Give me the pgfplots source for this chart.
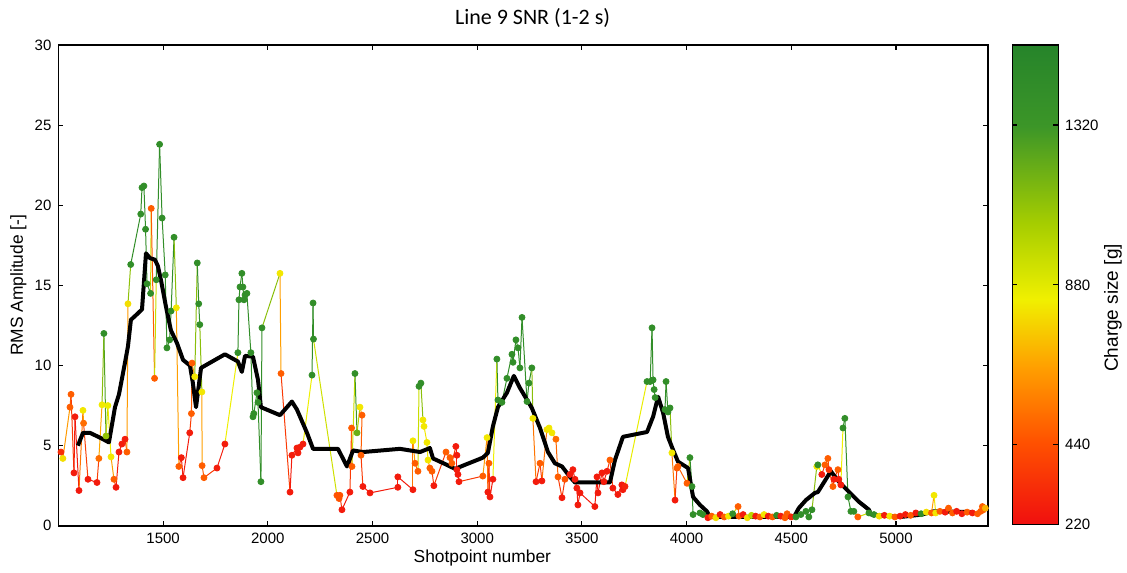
\documentclass[border=0pt]{standalone}
\usepackage{fontspec}
\setmainfont{Liberation Sans}
\newfontfamily\titlefont{Carlito}
\usepackage{pgfplots}
\pgfplotsset{compat=1.18}
\usepackage{pgfplotstable}

\pgfplotstableread{
x y c
1012 4.6 330
1021 4.2 800
1055 7.4 480
1060 8.2 480
1074 3.3 260
1079 6.8 260
1098 2.2 250
1117 7.2 820
1120 6.4 520
1141 2.9 260
1184 2.7 260
1193 4.2 520
1208 7.55 830
1217 12.0 1420
1227 5.6 1100
1236 7.5 850
1251 4.3 820
1265 2.9 480
1275 2.4 250
1289 4.6 270
1303 5.1 270
1318 5.4 270
1327 4.6 480
1332 13.85 800
1345 16.3 1420
1393 19.45 1420
1399 21.1 1420
1408 21.2 1420
1416 18.5 1420
1423 15.1 1420
1440 14.5 1420
1443 19.8 480
1459 9.2 480
1467 15.35 1420
1483 23.8 1420
1495 19.2 1420
1510 15.65 1420
1518 11.1 1420
1531 11.6 1420
1538 13.4 1420
1552 18.0 1420
1563 13.6 820
1575 3.7 480
1587 4.25 270
1595 3.0 260
1627 5.8 270
1635 7.0 480
1638 10.15 480
1651 9.3 820
1663 16.4 1420
1670 13.85 1420
1675 12.55 1420
1685 8.35 820
1686 3.75 480
1695 3.0 480
1757 3.6 270
1795 5.1 270
1857 10.8 1420
1862 14.1 1420
1867 14.9 1420
1876 15.75 1420
1881 14.9 1420
1886 14.1 1420
1891 14.4 1420
1900 14.5 1420
1919 10.8 1420
1929 6.8 1420
1933 7.0 1420
1948 8.3 1420
1953 7.7 1420
1967 2.75 1420
1972 12.35 1420
2058 15.75 820
2063 9.5 480
2106 2.1 260
2115 4.4 270
2139 4.85 270
2144 4.55 270
2153 4.9 270
2168 5.1 270
2211 9.4 1420
2216 13.9 1420
2218 11.65 1420
2330 1.9 450
2340 1.7 450
2344 1.9 450
2354 1.0 260
2392 2.1 260
2400 6.1 480
2402 3.7 480
2416 9.5 1420
2426 5.8 1200
2440 7.4 820
2450 6.9 480
2445 4.4 480
2454 2.45 260
2488 2.05 260
2621 2.4 260
2621 3.05 260
2693 2.25 260
2693 5.3 820
2703 3.9 480
2717 3.4 480
2722 8.7 1420
2731 8.9 1420
2741 6.6 820
2746 6.2 820
2760 5.2 820
2765 4.1 820
2774 3.6 480
2784 3.4 480
2793 2.5 260
2851 4.6 480
2870 4.25 480
2879 3.9 480
2898 4.95 260
2903 4.4 260
2903 3.5 260
2908 3.2 260
2913 2.75 260
3027 3.1 480
3047 5.5 820
3051 2.1 260
3056 3.9 480
3061 1.8 260
3075 2.9 260
3094 10.4 1420
3099 7.85 1420
3118 7.7 1420
3142 9.2 1420
3166 10.7 1420
3171 10.2 1420
3185 11.6 1420
3195 11.1 1420
3204 9.85 1420
3214 13.0 1420
3238 7.75 1420
3247 8.9 1420
3261 9.85 1420
3266 6.7 820
3281 2.75 260
3300 3.9 480
3309 2.8 260
3333 6.0 800
3343 6.1 820
3357 5.8 820
3376 5.4 520
3386 3.05 480
3405 1.75 260
3419 2.9 450
3443 3.2 260
3457 3.5 260
3467 2.9 260
3476 2.35 260
3481 1.3 260
3491 2.05 260
3562 1.2 260
3572 3.05 260
3577 2.05 260
3596 3.3 260
3605 2.75 260
3620 3.4 260
3634 4.1 480
3648 2.35 260
3672 1.95 260
3691 2.55 260
3696 2.25 260
3706 2.45 300
3811 9.0 1420
3826 9.0 1420
3835 12.35 1420
3840 9.1 1420
3845 8.5 1420
3850 8.0 1420
3897 7.25 1420
3902 9.0 1420
3911 7.1 1420
3921 7.35 1420
3930 4.55 820
3945 1.6 260
3954 3.6 480
3959 3.7 480
4002 2.65 480
4016 4.25 1420
4026 2.45 1420
4031 0.7 1420
4064 0.8 1420
4078 0.7 1420
4102 0.5 260
4120 0.6 480
4140 0.5 800
4160 0.7 260
4180 0.55 480
4200 0.6 820
4220 0.75 1420
4246 1.2 480
4250 0.6 480
4270 0.7 260
4290 0.5 800
4310 0.65 1000
4330 0.6 260
4350 0.55 480
4370 0.7 820
4390 0.6 260
4410 0.55 480
4430 0.65 1420
4450 0.6 260
4470 0.5 480
4480 0.75 480
4500 0.55 300
4522 0.55 1420
4546 0.7 1420
4570 0.9 1420
4584 0.55 1420
4599 1.0 1420
4622 3.7 820
4627 3.8 1420
4646 3.2 260
4661 3.8 480
4675 4.2 480
4680 3.5 350
4699 2.45 480
4704 2.9 260
4723 3.5 480
4727 2.9 260
4737 2.55 260
4747 6.1 1420
4756 6.7 1420
4771 1.8 1420
4785 0.9 1420
4799 0.9 1420
4818 0.55 480
4871 0.8 1420
4895 0.7 1420
4920 0.6 800
4945 0.65 260
4970 0.6 820
4995 0.55 480
5020 0.6 260
5045 0.7 260
5070 0.65 480
5095 0.8 260
5120 0.75 1420
5145 0.85 800
5170 0.8 480
5182 1.9 820
5190 0.8 820
5210 0.9 480
5235 0.85 260
5251 1.1 480
5270 0.8 480
5290 0.9 260
5315 0.75 260
5340 0.85 480
5365 0.8 260
5390 0.75 480
5405 0.9 480
5413 1.2 480
5418 1.0 480
5427 1.1 700
}\shots

\pgfplotstableread{
x y
1093 5.0
1117 5.8
1150 5.8
1198 5.5
1213 5.4
1241 5.2
1270 7.4
1289 8.2
1318 10.2
1332 11.2
1346 12.85
1375 13.2
1399 13.5
1418 17.0
1437 16.7
1461 16.6
1475 16.2
1490 15.3
1513 13.7
1537 12.2
1566 11.4
1595 10.35
1628 10.0
1642 8.9
1657 7.4
1681 9.85
1795 10.7
1857 10.25
1876 9.6
1891 10.6
1929 10.55
1953 9.1
1967 7.4
2058 6.9
2115 7.75
2139 7.25
2187 5.8
2216 4.8
2335 4.8
2378 3.7
2407 4.7
2454 4.6
2631 4.8
2727 4.6
2774 4.85
2789 4.2
2855 3.8
2894 3.55
3027 4.25
3051 4.55
3075 6.2
3099 7.4
3142 8.3
3175 9.35
3204 8.6
3261 7.35
3300 6.1
3338 4.6
3371 3.9
3405 3.7
3443 3.05
3467 2.7
3634 2.7
3658 4.1
3696 5.55
3811 5.85
3840 6.8
3864 8.05
3888 7.05
3911 5.55
3935 4.75
3959 4.0
4007 3.6
4031 1.8
4064 1.3
4097 0.9
4112 0.55
4255 0.55
4513 0.55
4536 1.1
4570 1.6
4613 2.05
4627 2.1
4689 3.4
4727 2.75
4823 1.5
4871 1.0
4881 0.7
5024 0.55
5124 0.7
5182 0.9
5370 0.85
}\smoothed

\begin{document}
\begin{tikzpicture}
\begin{axis}[
  name=main,
  scale only axis,
  width=465pt, height=240.5pt,
  xmin=1000, xmax=5440, ymin=0, ymax=30,
  xtick={1500,2000,...,5000},
  ytick={0,5,...,30},
  tick align=inside,
  major tick length=2.5pt,
  axis line style={line width=0.8pt},
  every tick/.style={black, line width=0.6pt},
  /pgf/number format/1000 sep={},
  /pgf/number format/assume math mode=true,
  tick label style={font=\fontsize{7.5}{9}\selectfont},
  xlabel={Shotpoint number},
  ylabel={RMS Amplitude [-]},
  label style={font=\fontsize{8.7}{10}\selectfont},
  xlabel style={at={(axis description cs:0.456,0)}, anchor=center, yshift=-16pt},
  ylabel style={at={(axis description cs:0,0.5)}, anchor=center, yshift=20pt},
  title={Line 9 SNR (1-2 s)},
  title style={font=\titlefont\fontsize{11}{13}\selectfont, at={(axis description cs:0.51,1)}, anchor=center, yshift=7.5pt},
  colormap={charge}{rgb255(0cm)=(240,15,15) rgb255(17cm)=(255,80,0) rgb255(33cm)=(255,160,0) rgb255(47cm)=(240,240,0) rgb255(63cm)=(165,205,0) rgb255(83cm)=(60,150,40) rgb255(100cm)=(38,132,42)},
  point meta min=220, point meta max=1540,
  colorbar,
  colorbar/width=23pt,
  colorbar style={
    at={(parent axis.north east)}, anchor=north west, xshift=3.5pt,
    height=240pt,
    ytick={220,440,880,1320},
    /pgf/number format/1000 sep={},
    /pgf/number format/assume math mode=true,
    tick align=inside, major tick length=2.5pt,
    axis line style={line width=0.6pt},
    yticklabel style={font=\fontsize{7.5}{9}\selectfont},
    ylabel={Charge size [g]},
    ylabel style={font=\fontsize{9.5}{11}\selectfont, at={(axis description cs:1,0.452)}, anchor=center, yshift=-27.5pt},
  },
]
\addplot[mesh, point meta=explicit, line width=0.5pt, forget plot] table[x=x, y=y, meta=c] {\shots};
\addplot[scatter, only marks, mark=*, mark size=1.5pt, point meta=explicit,
  scatter/use mapped color={draw=mapped color, fill=mapped color}] table[x=x, y=y, meta=c] {\shots};
\addplot[black, line width=2pt, line join=round] table[x=x, y=y] {\smoothed};
\end{axis}
\pgfresetboundingbox
\path[use as bounding box] ([xshift=-29.25pt,yshift=-23.5pt]main.south west) rectangle ([xshift=69.5pt,yshift=22.5pt]main.north east);
\end{tikzpicture}
\end{document}
